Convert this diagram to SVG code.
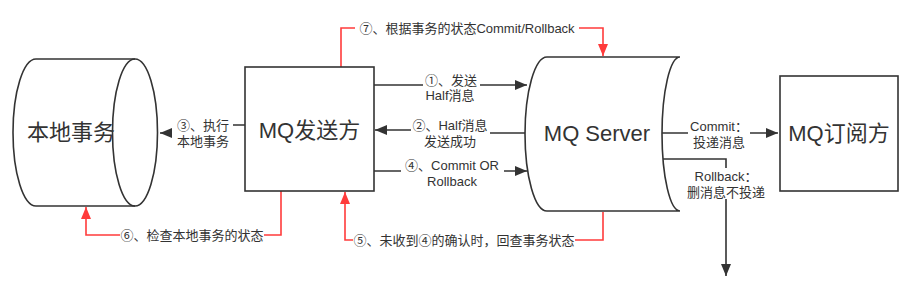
<svg xmlns="http://www.w3.org/2000/svg" width="923" height="298" viewBox="0 0 923 298">
<style>
text{font-family:"Liberation Sans","Noto Sans CJK SC",sans-serif;fill:#333}
.big{font-size:22px}
.lb{font-size:13px;text-anchor:middle}
.shape{fill:#fff;stroke:#333;stroke-width:1.6}
.c{fill:none;stroke:#333;stroke-width:1.6}
.r{fill:none;stroke:#ff3b3b;stroke-width:1.6}
.bg{fill:#fff}
</style>
<defs>
<marker id="ab" markerUnits="userSpaceOnUse" markerWidth="13" markerHeight="11" refX="12" refY="5" orient="auto"><path d="M0,0 L12,5 L0,10 z" fill="#333"/></marker>
<marker id="ar" markerUnits="userSpaceOnUse" markerWidth="13" markerHeight="11" refX="12" refY="5" orient="auto"><path d="M0,0 L12,5 L0,10 z" fill="#ff3b3b"/></marker>
</defs>
<g id="connectors">
<path class="c" d="M374,85 H527" marker-end="url(#ab)"/>
<path class="c" d="M525,133 H470 V130 H375" marker-end="url(#ab)"/>
<path class="c" d="M245,125 H200 V133 H160" marker-end="url(#ab)"/>
<path class="c" d="M374,171 H527" marker-end="url(#ab)"/>
<path class="c" d="M662,133 H778" marker-end="url(#ab)"/>
<path class="c" d="M662,159 H726 V276" marker-end="url(#ab)"/>
<path class="r" d="M341,67 V28 H603 V56" marker-end="url(#ar)"/>
<path class="r" d="M281,191 V235 H86 V207" marker-end="url(#ar)"/>
<path class="r" d="M603,212 V240 H345 V192" marker-end="url(#ar)"/>
<rect class="bg" x="423" y="72" width="57" height="31"/>
<text class="lb" x="451" y="85">①、发送</text>
<text class="lb" x="450" y="100">Half消息</text>
<rect class="bg" x="411" y="117" width="79" height="32"/>
<text class="lb" x="450" y="129.5">②、Half消息</text>
<text class="lb" x="450" y="146">发送成功</text>
<rect class="bg" x="172" y="117" width="61" height="31"/>
<text class="lb" x="203" y="129.5">③、执行</text>
<text class="lb" x="203" y="146">本地事务</text>
<rect class="bg" x="401" y="157" width="103" height="31"/>
<text class="lb" x="452" y="170">④、Commit OR</text>
<text class="lb" x="452" y="185.5">Rollback</text>
<rect class="bg" x="688" y="118" width="62" height="31"/>
<text class="lb" x="719" y="131">Commit：</text>
<text class="lb" x="719" y="146.5">投递消息</text>
<rect class="bg" x="685" y="168" width="82" height="31"/>
<text class="lb" x="726" y="181">Rollback：</text>
<text class="lb" x="726" y="196.5">删消息不投递</text>
<rect class="bg" x="355" y="19" width="224" height="18"/>
<text class="lb" x="467" y="32.5">⑦、根据事务的状态Commit/Rollback</text>
<rect class="bg" x="120" y="226" width="144" height="18"/>
<text class="lb" x="192" y="239.5">⑥、检查本地事务的状态</text>
<rect class="bg" x="353" y="231" width="222" height="18"/>
<text class="lb" x="464" y="244.5">⑤、未收到④的确认时，回查事务状态</text>
</g>
<g id="local-tx">
<path class="shape" d="M36,59 H135 A22.5,73.5 0 0 1 135,206 H36 A23,73.5 0 0 1 36,59 Z"/>
<path class="c" d="M135,59 A22.5,73.5 0 0 0 135,206"/>
<text class="big" x="71" y="140" text-anchor="middle">本地事务</text>
</g>
<g id="mq-sender">
<rect class="shape" x="245" y="67" width="129" height="124"/>
<text class="big" x="309.5" y="138" text-anchor="middle">MQ发送方</text>
</g>
<g id="mq-server">
<path class="shape" d="M547,57 H680 A18,77 0 0 0 680,211 H547 A22,77 0 0 1 547,57 Z"/>
<text class="big" x="597" y="141" text-anchor="middle">MQ Server</text>
</g>
<g id="mq-subscriber">
<rect class="shape" x="780" y="76" width="118" height="115"/>
<text class="big" x="839" y="141" text-anchor="middle">MQ订阅方</text>
</g>
</svg>
